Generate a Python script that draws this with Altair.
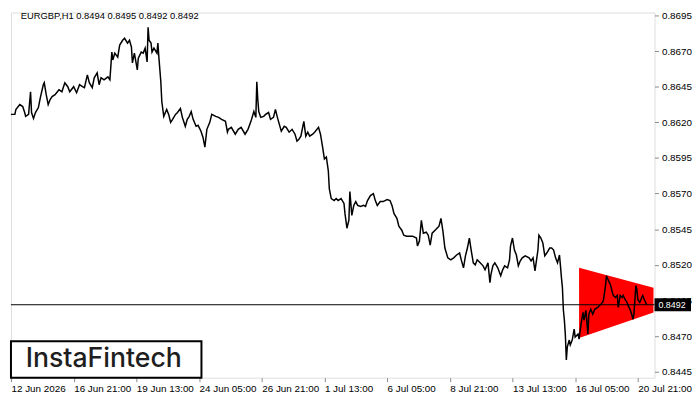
import altair as alt
import pandas as pd

# ---- data (H1 bar index, close price) ----
bar = [0, 2, 4, 5, 9, 12, 14, 15, 18, 20, 21, 23, 25, 28, 30, 33, 34, 36, 38, 40, 42, 45, 49, 52, 55, 58, 60, 64, 67, 70,
       73, 75, 78, 80, 83, 85, 88, 90, 92, 95, 99, 101, 103, 104, 106, 109, 111, 114, 116, 119, 121, 123, 124, 126, 129, 130,
       133, 135, 137, 139, 140, 141, 143, 144, 146, 149, 150, 151, 153, 154, 156, 159, 161, 163, 165, 168, 170, 173, 175, 178,
       180, 182, 184, 186, 189, 191, 194, 196, 198, 200, 203, 205, 209, 212, 215, 219, 221,
       222, 225, 229, 232, 235, 239, 242, 245, 248, 250, 251, 252, 253, 255, 258, 260, 263, 265, 268, 270, 272, 274, 276, 279,
       281, 284, 287, 290, 292, 294, 296, 299, 301, 303, 305, 308, 310, 314, 316, 318, 320, 322, 324, 325, 327, 330, 332, 334,
       337, 340, 341, 343, 345, 346, 348, 350, 352, 354, 357, 360, 362, 364, 367, 370, 372, 374, 377, 380, 384, 387, 389, 391,
       394, 396, 399, 401, 404, 407, 410, 414, 415, 417, 419, 421, 424, 426, 428, 430, 433, 435, 437, 439, 441,
       443, 446, 449, 452, 455, 458, 460, 462, 464, 466, 468, 470, 472, 474, 476, 479, 482, 484, 487, 489, 490, 492, 494, 497,
       500, 502, 504, 507, 509, 510, 512, 514, 516, 518, 520, 522, 525, 529, 531, 533, 535, 538, 539, 541, 543, 545, 547, 550,
       552, 554, 556, 558, 560, 561, 562, 563, 564, 565, 566, 567, 568, 570, 571, 573, 575, 576, 579, 580, 582, 584, 585, 587,
       589, 590, 592, 594, 596, 599, 601, 604, 605, 607, 608, 610, 612, 614, 615, 617, 619, 620, 622, 624, 625, 627, 629, 630,
       632, 634, 635, 636, 638, 639, 640, 642, 644, 645, 647, 649]

close = [0.86256, 0.86256, 0.86256, 0.86290, 0.86325, 0.86311, 0.86269, 0.86242, 0.86256, 0.86415, 0.86269, 0.86228,
         0.86269, 0.86304, 0.86374, 0.86464, 0.86478, 0.86394, 0.86325, 0.86360, 0.86381, 0.86394, 0.86429, 0.86415,
         0.86478, 0.86450, 0.86415, 0.86450, 0.86408, 0.86464, 0.86450, 0.86443, 0.86533, 0.86478, 0.86443, 0.86513,
         0.86547, 0.86464, 0.86513, 0.86499, 0.86519, 0.86499, 0.86693, 0.86638, 0.86686, 0.86658, 0.86742, 0.86776,
         0.86790, 0.86756, 0.86776, 0.86728, 0.86617, 0.86686, 0.86568, 0.86651, 0.86693, 0.86686, 0.86721, 0.86624,
         0.86867, 0.86776, 0.86756, 0.86693, 0.86721, 0.86686, 0.86756, 0.86658, 0.86485, 0.86346, 0.86242, 0.86290,
         0.86256, 0.86200, 0.86221, 0.86256, 0.86269, 0.86297, 0.86235, 0.86172, 0.86221, 0.86242, 0.86276, 0.86221,
         0.86172, 0.86179, 0.86138, 0.86096, 0.86026, 0.86151, 0.86200, 0.86256, 0.86242, 0.86235, 0.86221, 0.86207,
         0.86131,
         0.86151, 0.86165, 0.86117, 0.86151, 0.86165, 0.86117, 0.86151, 0.86207, 0.86276, 0.86235, 0.86485, 0.86360,
         0.86276, 0.86235, 0.86242, 0.86256, 0.86269, 0.86221, 0.86235, 0.86290, 0.86235, 0.86186, 0.86138, 0.86172,
         0.86165, 0.86131, 0.86151, 0.86117, 0.86068, 0.86082, 0.86103, 0.86207, 0.86103, 0.86131, 0.86103, 0.86117,
         0.86131, 0.86165, 0.86117, 0.86033, 0.85943, 0.85957, 0.85860, 0.85735, 0.85665, 0.85651, 0.85665, 0.85651,
         0.85665, 0.85631, 0.85561, 0.85457, 0.85513, 0.85714, 0.85547, 0.85617, 0.85644, 0.85617, 0.85610, 0.85617,
         0.85610, 0.85651, 0.85686, 0.85700, 0.85651, 0.85617, 0.85644, 0.85644, 0.85658, 0.85651, 0.85617, 0.85561,
         0.85526, 0.85471, 0.85443, 0.85408, 0.85401, 0.85401, 0.85401, 0.85388, 0.85332, 0.85367, 0.85513, 0.85422,
         0.85429, 0.85408, 0.85339, 0.85422, 0.85443, 0.85457, 0.85471, 0.85526, 0.85436,
         0.85318, 0.85249, 0.85235, 0.85249, 0.85269, 0.85283, 0.85228, 0.85179, 0.85263, 0.85318, 0.85388, 0.85297,
         0.85214, 0.85200, 0.85235, 0.85214, 0.85193, 0.85165, 0.85214, 0.85075, 0.85131, 0.85193, 0.85214, 0.85179,
         0.85124, 0.85165, 0.85193, 0.85179, 0.85235, 0.85332, 0.85388, 0.85304, 0.85269, 0.85193, 0.85228, 0.85249,
         0.85263, 0.85249, 0.85228, 0.85249, 0.85158, 0.85304, 0.85408, 0.85388, 0.85353, 0.85263, 0.85283, 0.85318,
         0.85318, 0.85304, 0.85249, 0.85214, 0.85269, 0.85193, 0.85110, 0.85040, 0.84881, 0.84811, 0.84707, 0.84533,
         0.84624, 0.84672, 0.84638, 0.84672, 0.84749, 0.84693, 0.84714, 0.84679, 0.84783, 0.84867, 0.84811, 0.84881,
         0.84714, 0.84853, 0.84888, 0.84853, 0.84888, 0.84901, 0.84915, 0.84936, 0.84957, 0.85054, 0.85124, 0.85089,
         0.85061, 0.85006, 0.84985, 0.84971, 0.84985, 0.84901, 0.84985, 0.84971, 0.84985, 0.84957, 0.84936, 0.84915,
         0.84888, 0.84846, 0.84818, 0.84853, 0.85054, 0.85026, 0.84957, 0.84936, 0.84971, 0.84985, 0.84950, 0.84920]

x_tick_bars = [0, 64, 128, 192, 256, 320, 384, 448, 512, 576, 640]
x_tick_labels = ["12 Jun 2026", "16 Jun 21:00", "19 Jun 13:00", "24 Jun 05:00", "26 Jun 21:00", "1 Jul 13:00",
                 "6 Jul 05:00", "8 Jul 21:00", "13 Jul 13:00", "16 Jul 05:00", "20 Jul 21:00"]
y_ticks = [0.8445, 0.8470, 0.8495, 0.8520, 0.8545, 0.8570, 0.8595, 0.8620, 0.8645, 0.8670, 0.8695]

pennant_bar = [580, 656]
pennant_top = [0.85179, 0.85039]
pennant_bottom = [0.84686, 0.84866]

last_price = 0.8492
title_text = "EURGBP,H1  0.8494 0.8495 0.8492 0.8492"
logo_text = "InstaFintech"

# ---- chart ----
W, H = 652, 370
FONT = "Liberation Sans"

df = pd.DataFrame({"bar": bar, "price": close})
pen = pd.DataFrame({"bar": pennant_bar, "price": pennant_top, "price2": pennant_bottom})
hl = pd.DataFrame({"price": [last_price], "label": [f"{last_price:.4f}"]})
box = pd.DataFrame({"price": [last_price + 0.00045], "price2": [last_price - 0.00045]})
one = pd.DataFrame({"t": [title_text], "logo": [logo_text]})

label_arr = "[" + ",".join(f"'{s}'" for s in x_tick_labels) + "]"
bar_arr = "[" + ",".join(str(b) for b in x_tick_bars) + "]"

xscale = alt.Scale(domain=[0, 657], nice=False, zero=False)
yscale = alt.Scale(domain=[0.84408, 0.86971], nice=False, zero=False)
xaxis = alt.Axis(values=x_tick_bars, labelExpr=f"{label_arr}[indexof({bar_arr}, datum.value)]",
                 labelAlign="left", labelPadding=2, tickSize=4, labelOverlap=False, labelFlush=False,
                 grid=False, domain=False, title=None)
yaxis = alt.Axis(orient="right", values=y_ticks, format=".4f", tickSize=4, labelPadding=3,
                 labelOverlap=False, labelFlush=False, grid=False, domain=False, title=None)

X = alt.X("bar:Q", scale=xscale, axis=xaxis)
Y = alt.Y("price:Q", scale=yscale, axis=yaxis)

pennant = alt.Chart(pen).mark_area(color="#ff0000", opacity=1).encode(x=X, y=Y, y2="price2:Q")
hline = alt.Chart(hl).mark_rule(color="black", strokeWidth=1).encode(y=Y)
line = alt.Chart(df).mark_line(color="black", strokeWidth=1.5, interpolate="linear").encode(x=X, y=Y)

pbox = alt.Chart(box).mark_rect(color="black").encode(
    x=alt.value(W), x2=alt.value(W + 37), y=Y, y2="price2:Q")
ptext = alt.Chart(hl).mark_text(align="left", baseline="middle", color="white", font=FONT, fontSize=9).encode(
    x=alt.value(W + 4), y=Y, text="label:N")

title = alt.Chart(one).mark_text(align="left", baseline="middle", color="black", font=FONT, fontSize=9.5).encode(
    x=alt.value(10), y=alt.value(4), text="t:N")

logo_box = alt.Chart(one).mark_rect(fill="white", stroke="black", strokeWidth=2).encode(
    x=alt.value(0), x2=alt.value(193), y=alt.value(333), y2=alt.value(370))
logo = alt.Chart(one).mark_text(align="center", baseline="middle", color="#1e1e1e", font="Inter",
                                fontSize=27, fontWeight=500).encode(
    x=alt.value(94), y=alt.value(351), text="logo:N")

chart = alt.layer(pennant, hline, line, logo_box, logo, pbox, ptext, title).properties(
    width=W, height=H, padding=0
).configure_view(
    stroke="black", strokeWidth=1
).configure_axis(
    grid=False, domain=False, labelFont=FONT, labelFontSize=9, labelColor="black",
    tickColor="black", tickWidth=1
).configure(background="white")

chart.save("out.html", embed_options={"renderer": "svg", "actions": False})
